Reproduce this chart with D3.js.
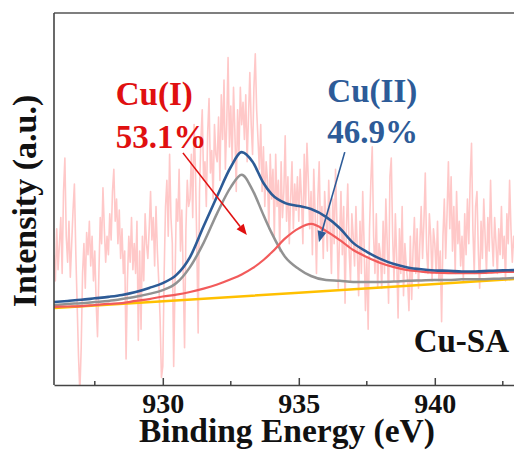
<!DOCTYPE html>
<html>
<head>
<meta charset="utf-8">
<script src="https://cdn.jsdelivr.net/npm/d3@7/dist/d3.min.js"></script>
<style>
  html, body { margin: 0; padding: 0; background: #fff; }
  svg { display: block; }
  text { font-family: "Liberation Serif", "Times New Roman", serif; font-weight: bold; }
</style>
</head>
<body>
<svg id="chart" width="514" height="452"></svg>
<script>
// ---------- DATA ----------
// Raw spectrum (pink), sampled every 0.05 eV starting at 926.00 eV
const rawStart = 926.0;
const rawStep = 0.05;
const rawIntensity = [
  35, 28, 42, 31, 38, 45, 30, 52, 61, 40, 33, 44, 29, 38, 47, 54, 36, 22, 8, -2,
  10, 30, 38, 26, 41, 35, 44, 32, 40, 28, 36, 22, 13, 30, 45, 38, 53, 42, 33, 40,
  35, 46, 39, 52, 58, 44, 50, 38, 47, 34, 42, 30, 36, 7, 28, 40, 33, 45, 31, 38,
  30, 44, 12, 36, 15, 40, 28, 46, 38, 34, 42, 52, 39, 45, 32, 48, 36, 28, 18, 2,
  5, 30, 48, 55, 40, 62, 45, 38, 5, 28, 50, 44, 58, 36, 47, 30, 10, 42, 55, 48,
  50, 62, 45, 70, 58, 38, 14, 52, 66, 74, 55, 60, 48, 68, 77, 57, 63, 50, 70, 62,
  60, 72, 55, 78, 66, 82, 58, 70, 88, 64, 75, 60, 80, 68, 52, 74, 62, 80, 70, 76,
  66, 78, 60, 72, 84, 70, 62, 80, 89, 74, 66, 58, 70, 52, 64, 48, 60, 55, 42, 62,
  50, 58, 40, 62, 48, 55, 36, 60, 45, 52, 67, 44, 56, 38, 50, 60, 42, 54, 47, 56,
  44, 58, 50, 38, 62, 48, 65, 55, 42, 52, 35, 58, 46, 30, 50, 60, 40, 48, 34, 52,
  45, 36, 55, 42, 30, 50, 38, 58, 44, 26, 40, 52, 35, 48, 22, 42, 54, 36, 28, 46,
  40, 32, 48, 36, 24, 44, 30, 52, 38, 20, 34, 15, 42, 55, 64, 40, 30, 46, 26, 38,
  35, 26, 44, 30, 50, 38, 22, 56, 61, 40, 28, 46, 34, 18, 42, 30, 48, 24, 38, 32,
  28, 20, 40, 23, 36, 45, 30, 42, 26, 38, 48, 34, 44, 57, 36, 30, 46, 40, 28, 42,
  38, 30, 44, 28, 36, 17, 40, 50, 34, 46, 60, 42, 56, 36, 48, 30, 52, 38, 44, 32,
  40, 28, 46, 35, 50, 38, 55, 65, 42, 30, 48, 52, 36, 26, 44, 34, 50, 40, 30, 45,
  36, 55, 40, 32, 45, 38, 30, 42, 35, 48, 34, 40, 28, 46, 38, 55, 42, 33, 40, 36,
  38, 44, 32, 40, 35, 46, 30, 42, 38, 34, 44, 36, 40, 32, 45, 38, 42, 35, 40, 37,
  38
];

// Fitted curves
const fitEnergy = [926, 926.5, 927, 927.5, 928, 928.5, 929, 929.5, 930, 930.5, 931, 931.5,
  932, 932.5, 932.9, 933.3, 933.7, 934, 934.5, 935, 935.45, 936, 936.5, 937, 937.5, 938,
  938.5, 939, 939.5, 940, 940.5, 941, 941.5, 942, 942.5, 943, 943.5, 944];
const cuIFit = [21.5, 21.8, 22.0, 22.3, 22.6, 23.1, 23.7, 24.5, 25.5, 27.4, 31.7, 38.2,
  46.2, 53.2, 56.5, 52.4, 45.7, 40.9, 34.4, 31.2, 29.3, 28.2, 28.0, 27.7, 27.7, 27.7,
  27.8, 28.0, 28.1, 28.2, 28.2, 28.4, 28.4, 28.5, 28.6, 28.8, 28.9, 29.0];
const cuIIFit = [21.0, 21.1, 21.2, 21.5, 21.8, 22.0, 22.6, 23.1, 23.8, 24.3, 25.0, 25.9,
  27.0, 28.4, 29.7, 31.4, 33.6, 35.6, 39.4, 42.1, 43.3, 41.4, 39.0, 36.3, 34.4, 32.8,
  31.7, 30.9, 30.5, 30.2, 30.1, 30.1, 30.1, 30.2, 30.4, 30.4, 30.5, 30.6];
const envelopeFit = [22.3, 22.6, 22.9, 23.3, 23.7, 24.2, 25.0, 26.1, 27.4, 29.6, 34.4, 42.7,
  50.8, 58.6, 62.6, 60.0, 54.3, 51.3, 48.9, 48.1, 47.3, 45.2, 42.2, 38.2, 35.8, 33.9,
  32.5, 31.6, 31.1, 30.8, 30.7, 30.5, 30.5, 30.7, 30.8, 30.9, 31.1, 31.2];
const backgroundEnergy = [926, 935, 944];
const backgroundFit = [20.7, 24.8, 29.0];

const xMajorTicks = [930, 935, 940];
const xMinorTicks = [927.5, 932.5, 937.5, 942.5];
const xTitle = "Binding Energy (eV)";
const yTitle = "Intensity (a.u.)";
const sampleName = "Cu-SA";

// Annotations (positions in data units)
const labels = [
  { lines: ["Cu(I)", "53.1%"], e: 928.27, v: [75.3, 63.7], color: "#e01010" },
  { lines: ["Cu(II)", "46.9%"], e: 936.05, v: [76.0, 65.0], color: "#2d5b98" }
];
const arrows = [
  { from: [930.74, 62.4], to: [933.09, 40.3], color: "#e01010" },
  { from: [936.69, 62.6], to: [935.74, 38.4], color: "#2d5b98" }
];

(function () {
// ---------- LAYOUT ----------
const W = 514, H = 452;
const mLeft = 54, mTop = 13, mBottom = 385;
const x = d3.scaleLinear().domain([926, 944]).range([mLeft, mLeft + 18 * 27.2]);
const y = d3.scaleLinear().domain([0, 100]).range([mBottom, mTop]);

const svg = d3.select("#chart");

svg.append("defs").append("clipPath").attr("id", "plotclip")
  .append("rect").attr("x", mLeft).attr("y", mTop)
  .attr("width", x.range()[1] - mLeft).attr("height", mBottom - mTop);

const plot = svg.append("g").attr("clip-path", "url(#plotclip)");

const raw = rawIntensity.map((v, i) => [rawStart + i * rawStep, v]);
const rawLine = d3.line().x(d => x(d[0])).y(d => y(d[1]));
plot.append("path").datum(raw)
  .attr("d", rawLine)
  .attr("fill", "none").attr("stroke", "#ffc8c8").attr("stroke-width", 1.6)
  .attr("stroke-linejoin", "round");

const fitLine = d3.line().x(d => x(d[0])).y(d => y(d[1])).curve(d3.curveMonotoneX);
function drawFit(es, vs, color, w) {
  plot.append("path").datum(es.map((e, i) => [e, vs[i]]))
    .attr("d", fitLine).attr("fill", "none")
    .attr("stroke", color).attr("stroke-width", w);
}
drawFit(backgroundEnergy, backgroundFit, "#ffc000", 2.5);
drawFit(fitEnergy, cuIFit, "#929292", 2.5);
drawFit(fitEnergy, cuIIFit, "#f25b5b", 2.2);
drawFit(fitEnergy, envelopeFit, "#2d5b96", 2.6);

// Frame
svg.append("line").attr("x1", mLeft).attr("x2", W).attr("y1", mTop).attr("y2", mTop)
  .attr("stroke", "#555").attr("stroke-width", 1.6);
svg.append("line").attr("x1", mLeft).attr("x2", mLeft).attr("y1", mTop).attr("y2", mBottom)
  .attr("stroke", "#444").attr("stroke-width", 1.6);

// Bottom axis
const ax = svg.append("g").attr("transform", `translate(0,${mBottom})`)
  .call(d3.axisBottom(x).tickValues(xMajorTicks).tickSize(-7).tickSizeOuter(0).tickPadding(8));
ax.select(".domain").attr("stroke", "#444").attr("stroke-width", 1.6);
ax.selectAll(".tick line").attr("stroke", "#444").attr("stroke-width", 1.5);
ax.selectAll(".tick text").attr("font-size", 28).attr("fill", "#111")
  .style("font-family", '"Liberation Serif", "Times New Roman", serif').style("font-weight", "bold");
svg.append("g").selectAll("line").data(xMinorTicks).join("line")
  .attr("x1", d => x(d)).attr("x2", d => x(d))
  .attr("y1", mBottom).attr("y2", mBottom - 4)
  .attr("stroke", "#444").attr("stroke-width", 1.5);

// Titles
svg.append("text").attr("x", 287).attr("y", 442).attr("text-anchor", "middle")
  .attr("font-size", 33.5).attr("fill", "#111").text(xTitle);
svg.append("text").attr("transform", `translate(36,201) rotate(-90)`)
  .attr("text-anchor", "middle").attr("font-size", 34).attr("fill", "#111").text(yTitle);

// Sample name
svg.append("text").attr("x", 509).attr("y", 352).attr("text-anchor", "end")
  .attr("font-size", 33).attr("fill", "#111").text(sampleName);

// Labels
labels.forEach(l => {
  l.lines.forEach((t, i) => {
    svg.append("text").attr("x", x(l.e)).attr("y", y(l.v[i]))
      .attr("font-size", 33).attr("fill", l.color).text(t);
  });
});

// Arrows
arrows.forEach(a => {
  const x1 = x(a.from[0]), y1 = y(a.from[1]), x2 = x(a.to[0]), y2 = y(a.to[1]);
  const ang = Math.atan2(y2 - y1, x2 - x1);
  const L = 11, Wd = 4.5;
  const bx = x2 - L * Math.cos(ang), by = y2 - L * Math.sin(ang);
  svg.append("line").attr("x1", x1).attr("y1", y1).attr("x2", bx).attr("y2", by)
    .attr("stroke", a.color).attr("stroke-width", 1.6);
  const px = -Math.sin(ang), py = Math.cos(ang);
  svg.append("path")
    .attr("d", `M${x2},${y2}L${bx + Wd * px},${by + Wd * py}L${bx - Wd * px},${by - Wd * py}Z`)
    .attr("fill", a.color);
});
})();
</script>
</body>
</html>
